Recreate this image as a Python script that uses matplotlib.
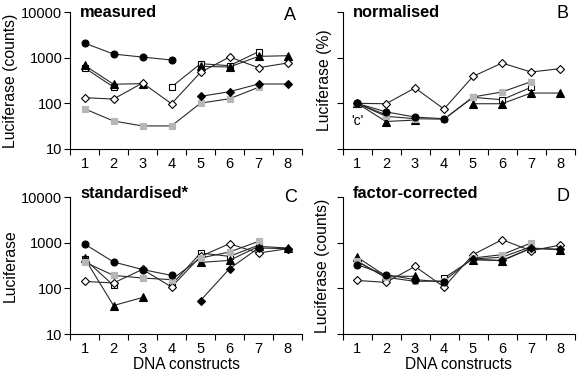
"""Luciferase counts for the DNA constructs, shown four ways (A-D)."""

import numpy as np
import matplotlib
matplotlib.use("Agg")
import matplotlib.pyplot as plt  # noqa: E402

plt.rcParams["font.family"] = ["Liberation Sans", "DejaVu Sans"]

nan = np.nan
CONSTRUCTS = [1, 2, 3, 4, 5, 6, 7, 8]

# panel A: measured
A_OSQUARE = [600, 228, nan, 228, 738, 667, 1350, nan]
A_TRIANGLE = [680, 262, 270, nan, 645, 625, 1067, 1104]
A_ODIAMOND = [133, 124, 279, 98, 476, 1035, 603, 764]
A_GRAY = [76, 41, 32, 32, 101, 126, 224, nan]
A_FDIAMOND = [nan, nan, nan, nan, 142, 180, 265, 265]
A_CIRCLE = [2090, 1200, 1030, 890, nan, nan, nan, nan]

# panel B: normalised (%)
B_OSQUARE = [100, 56, nan, 45, 135, 120, 224, nan]
B_TRIANGLE = [100, 40, 43, nan, 98, 98, 168, 168]
B_ODIAMOND = [100, 98, 217, 75, 389, 764, 485, 574]
B_GRAY = [100, 52, 46, 45, 138, 177, 298, nan]
B_FDIAMOND = [nan] * 8
B_CIRCLE = [100, 65, 50, 46, nan, nan, nan, nan]

# panel C: standardised
C_OSQUARE = [439, 116, nan, 120, 593, 501, 882, nan]
C_TRIANGLE = [461, 42, 63, nan, 370, 409, 829, 764]
C_ODIAMOND = [142, 131, 260, 107, 500, 949, 593, 738]
C_GRAY = [378, 192, 168, 155, 461, 624, 1068, nan]
C_FDIAMOND = [nan, nan, nan, nan, 54, 269, 764, 740]
C_CIRCLE = [935, 378, 258, 192, nan, nan, nan, nan]

# panel D: factor-corrected
D_OSQUARE = [400, 170, nan, 168, 440, 480, 820, nan]
D_TRIANGLE = [485, 185, 183, nan, 424, 403, 750, 700]
D_ODIAMOND = [149, 135, 302, 107, 546, 1161, 667, 882]
D_GRAY = [389, 175, 142, 145, 461, 546, 984, nan]
D_FDIAMOND = [nan, nan, nan, nan, 430, 410, 760, 720]
D_CIRCLE = [330, 199, 155, 138, nan, nan, nan, nan]

Y_TICKS = [10, 100, 1000, 10000]

STYLES = [
    dict(marker="s", mfc="white", mec="black", ms=4.6),
    dict(marker="^", mfc="black", mec="black", ms=5.2),
    dict(marker="D", mfc="white", mec="black", ms=4.0),
    dict(marker="s", mfc="#b6b6b6", mec="#b6b6b6", ms=5.0),
    dict(marker="D", mfc="black", mec="black", ms=4.0),
    dict(marker="o", mfc="black", mec="black", ms=5.0),
]

W, H = 577, 373
PANELS = [
    # (axes left px, axes bottom px), letter, title, ylabel, series,
    # ytick labels shown, title baseline px, letter baseline px, ylabel x
    ((70, 149), "A", "measured", "Luciferase (counts)",
     [A_OSQUARE, A_TRIANGLE, A_ODIAMOND, A_GRAY, A_FDIAMOND, A_CIRCLE],
     True, 16.7, 20, -0.225),
    ((342.5, 149), "B", "normalised", "Luciferase (%)",
     [B_OSQUARE, B_TRIANGLE, B_ODIAMOND, B_GRAY, B_FDIAMOND, B_CIRCLE],
     False, 16.7, 18.5, -0.045),
    ((70, 334), "C", "standardised*", "Luciferase",
     [C_OSQUARE, C_TRIANGLE, C_ODIAMOND, C_GRAY, C_FDIAMOND, C_CIRCLE],
     True, 198.3, 202, -0.225),
    ((342.5, 334), "D", "factor-corrected", "Luciferase (counts)",
     [D_OSQUARE, D_TRIANGLE, D_ODIAMOND, D_GRAY, D_FDIAMOND, D_CIRCLE],
     False, 197.7, 201, -0.052),
]

fig = plt.figure(figsize=(W / 100, H / 100), dpi=100)
aw, ah = 232, 137

for (x0, ybot), letter, title, ylabel, series, ylabels, tbase, lbase, ylx in PANELS:
    ax = fig.add_axes([x0 / W, 1 - ybot / H, aw / W, ah / H])
    for values, style in zip(series, STYLES):
        ax.plot(CONSTRUCTS, values, color="#2a2a2a", lw=0.8, mew=0.8,
                **style)
    ax.set_yscale("log")
    ax.set_ylim(10, 10000)
    ax.set_xlim(0.5, 8.5)
    ax.set_yticks(Y_TICKS)
    ax.minorticks_off()
    if ylabels:
        ax.set_yticklabels([str(t) for t in Y_TICKS])
    else:
        ax.set_yticklabels([])
    ax.set_xticks(CONSTRUCTS)
    ax.set_xticklabels([str(c) for c in CONSTRUCTS])
    ax.set_xticks(np.arange(0.5, 9, 1.0), minor=True)
    ax.tick_params(axis="x", which="major", length=0, pad=6, labelsize=10.5)
    ax.tick_params(axis="x", which="minor", length=4, width=0.8,
                   direction="out")
    ax.tick_params(axis="y", which="major", length=4, width=0.8, pad=1.5,
                   labelsize=10.5)
    for side in ("top", "right"):
        ax.spines[side].set_visible(False)
    for side in ("left", "bottom"):
        ax.spines[side].set_linewidth(0.8)

    ax.set_ylabel(ylabel, fontsize=11.3)
    ax.yaxis.set_label_coords(ylx, 0.5)
    if letter in ("C", "D"):
        ax.set_xlabel("DNA constructs", fontsize=11.2)
        ax.xaxis.set_label_coords(0.5, -0.165)

    top = ybot - ah
    ax.text(0.043, 1 - (tbase - top) / ah, title, transform=ax.transAxes,
            fontsize=11.8, fontweight="bold", ha="left", va="baseline")
    ax.text(0.95, 1 - (lbase - top) / ah, letter, transform=ax.transAxes,
            fontsize=13, ha="center", va="baseline")
    if letter == "B":
        ax.text(1, 42, "'c'", fontsize=10, ha="center", va="center")

fig.savefig("out.png", dpi=100)
